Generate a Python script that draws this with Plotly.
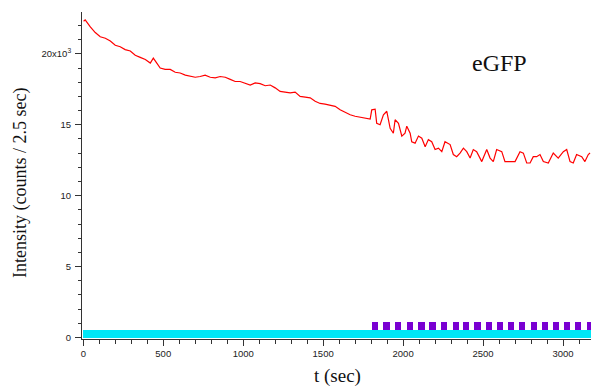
import plotly.graph_objects as go

# Intensity trace (counts / 2.5 s)
t_sec = [2, 12, 44, 75, 106, 138, 169, 200, 231, 262, 294, 325, 356, 388, 419, 438, 450,
         481, 512, 544, 575, 606, 638, 669, 700, 731, 762, 794, 825, 856, 888, 919, 950,
         981, 1012, 1044, 1075, 1106, 1138, 1169, 1200, 1231, 1262, 1294, 1325, 1356,
         1388, 1419, 1450, 1481, 1512, 1544, 1575, 1606, 1638, 1669, 1700, 1731, 1762,
         1794, 1804, 1825, 1835, 1856, 1877, 1898, 1919, 1939, 1950, 1971, 1992, 2012,
         2023, 2044, 2054, 2075, 2096, 2117, 2138, 2158, 2179, 2200, 2221, 2242, 2262,
         2294, 2314, 2335, 2356, 2377, 2398, 2419, 2439, 2460, 2492, 2523, 2544, 2564,
         2585, 2617, 2637, 2669, 2700, 2731, 2752, 2773, 2794, 2814, 2835, 2856, 2877,
         2908, 2939, 2970, 3002, 3023, 3044, 3064, 3085, 3117, 3137, 3158, 3169]
intensity = [22300, 22400, 21900, 21500, 21200, 21100, 20900, 20600, 20500, 20300, 20200,
             19900, 19750, 19600, 19350, 19700, 19500, 19000, 18900, 18900, 18700, 18650,
             18500, 18400, 18350, 18400, 18500, 18350, 18300, 18400, 18350, 18200, 18050,
             18050, 17950, 17800, 17950, 17900, 17750, 17800, 17600, 17350, 17300, 17250,
             17300, 17000, 16950, 16900, 16650, 16500, 16450, 16400, 16300, 16050, 15850,
             15700, 15600, 15550, 15450, 15400, 16050, 16100, 15100, 15000, 15700, 15950,
             14750, 14400, 15350, 15100, 14200, 14400, 14900, 14400, 13800, 13700, 14200,
             14050, 13450, 13950, 13800, 13250, 13350, 13100, 13800, 13600, 12900, 12750,
             13000, 13350, 13100, 12650, 13250, 13100, 12400, 13250, 12650, 12400, 13250,
             13100, 12400, 12400, 12400, 13100, 13000, 12300, 12300, 12750, 12750, 12900,
             12400, 12300, 13000, 12650, 13100, 13250, 12400, 12300, 12900, 12750, 12400,
             12900, 13000]

# Illumination bars
cyan_start, cyan_end = 0, 3200
cyan_low, cyan_high = -50, 550
pulse_starts = [1804, 1877, 1950, 2023, 2096, 2165, 2236, 2309, 2377, 2446, 2517, 2588,
                2656, 2727, 2798, 2867, 2939, 3006, 3077, 3148]
pulse_len = 38
pulse_low, pulse_high = 550, 1090

y_tickvals = [0, 5000, 10000, 15000, 20000]
y_ticktext = ["0", "5", "10", "15", "20x10<sup>3</sup>"]

fig = go.Figure()
fig.add_trace(go.Bar(x=[(cyan_start + cyan_end) / 2], y=[cyan_high - cyan_low], base=[cyan_low],
                     width=[cyan_end - cyan_start], marker=dict(color="#00E6F6", line=dict(width=0)),
                     showlegend=False))
fig.add_trace(go.Bar(x=[s + pulse_len / 2 for s in pulse_starts],
                     y=[pulse_high - pulse_low] * len(pulse_starts),
                     base=[pulse_low] * len(pulse_starts),
                     width=[pulse_len] * len(pulse_starts),
                     marker=dict(color="#7A00D2", line=dict(width=0)), showlegend=False))
fig.add_trace(go.Scatter(x=t_sec, y=intensity, mode="lines",
                         line=dict(color="#FF0000", width=1.2), showlegend=False))

tickfont = dict(family="Liberation Sans, Arial, sans-serif", size=9.5, color="#222")
fig.update_layout(
    width=591, height=387,
    margin=dict(l=82, r=0, t=12, b=48),
    paper_bgcolor="white", plot_bgcolor="white",
    barmode="overlay", bargap=0,
    xaxis=dict(range=[-8, 3175], showgrid=False, zeroline=False, showline=True,
               linecolor="#333", linewidth=1, ticks="outside", ticklen=6, tickcolor="#333",
               tickvals=[0, 500, 1000, 1500, 2000, 2500, 3000], tickfont=tickfont,
               minor=dict(dtick=100, tick0=0, ticks="outside", ticklen=3.5, tickcolor="#333",
                          showgrid=False)),
    yaxis=dict(range=[-110, 22950], showgrid=False, zeroline=False, showline=True,
               linecolor="#333", linewidth=1, ticks="outside", ticklen=6, tickcolor="#333",
               tickvals=y_tickvals, ticktext=y_ticktext, tickfont=tickfont,
               ticklabelstandoff=2,
               minor=dict(dtick=1000, tick0=0, ticks="outside", ticklen=3.5, tickcolor="#333",
                          showgrid=False)),
    annotations=[
        dict(text="Intensity (counts / 2.5 sec)", xref="paper", yref="paper", x=0, y=0.477,
             xshift=-62, textangle=-90, showarrow=False, xanchor="center", yanchor="middle",
             font=dict(family="Liberation Serif, serif", size=18, color="#111")),
        dict(text="t (sec)", xref="paper", yref="paper", x=0.501, y=0, yshift=-37,
             showarrow=False, xanchor="center", yanchor="middle",
             font=dict(family="Liberation Serif, serif", size=19, color="#111")),
        dict(text="eGFP", xref="paper", yref="paper", x=0.821, y=0.844,
             showarrow=False, xanchor="center", yanchor="middle",
             font=dict(family="Liberation Serif, serif", size=24, color="#111")),
    ],
)

fig.write_html("out.html")
